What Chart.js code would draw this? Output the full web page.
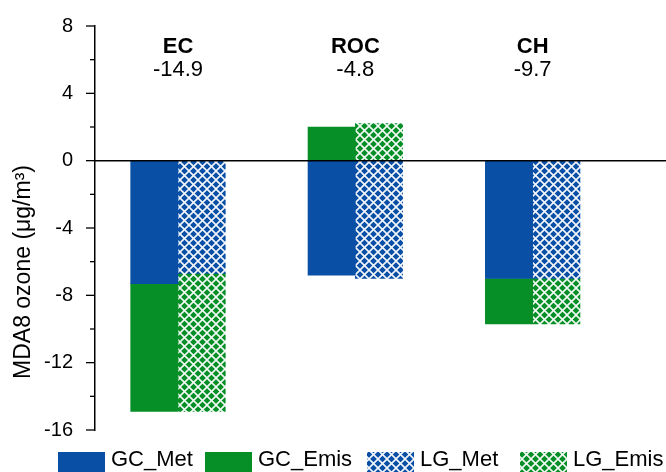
<!DOCTYPE html>
<html><head><meta charset="utf-8">
<script src="https://cdn.jsdelivr.net/npm/chart.js@4.4.0/dist/chart.umd.min.js"></script>
<style>html,body{margin:0;padding:0;background:#fff;}#wrap{width:666px;height:472px;}</style>
</head><body><div id="wrap"><canvas id="c" width="666" height="472"></canvas></div>
<script>
// ---- data ----
const categories = ['EC', 'ROC', 'CH'];
const totalLabels = ['-14.9', '-4.8', '-9.7'];
const seriesNames = ['GC_Met', 'GC_Emis', 'LG_Met', 'LG_Emis'];
const gcMet  = [-7.3, -6.8, -7.0];
const gcEmis = [-7.6,  2.0, -2.7];
const lgMet  = [-6.7, -7.0, -7.0];
const lgEmis = [-8.2,  2.2, -2.7];
const yTickValues = [8, 4, 0, -4, -8, -12, -16];

// ---- styles ----
const BLUE = '#0a4fa6';
const GREEN = '#068f26';
const FONT = "'Liberation Sans', Arial, sans-serif";
Chart.defaults.font.family = FONT;
Chart.defaults.color = '#000';

function hatch(color) {
  const s = 9;
  const c = document.createElement('canvas');
  c.width = s; c.height = s;
  const g = c.getContext('2d');
  g.fillStyle = color; g.fillRect(0, 0, s, s);
  g.strokeStyle = 'rgba(255,255,255,0.95)';
  g.lineWidth = 1.6;
  g.beginPath();
  g.moveTo(-2, -2); g.lineTo(s + 2, s + 2);
  g.moveTo(s + 2, -2); g.lineTo(-2, s + 2);
  g.stroke();
  return g.createPattern(c, 'repeat');
}
const fills = [BLUE, GREEN, hatch(BLUE), hatch(GREEN)];
const stacks = ['GC', 'GC', 'LG', 'LG'];
const seriesValues = [gcMet, gcEmis, lgMet, lgEmis];

const datasets = seriesNames.map((name, k) => ({
  label: name,
  data: categories.map((c, i) => ({ x: i + 1, y: seriesValues[k][i] })),
  backgroundColor: fills[k],
  stack: stacks[k],
  barThickness: 47.3,
  borderWidth: 0
}));

const overlay = {
  id: 'overlay',
  afterDatasetsDraw(chart) {
    const ctx = chart.ctx;
    const ys = chart.scales.y, xs = chart.scales.x;
    const area = chart.chartArea;
    ctx.save();
    // zero line
    const y0 = ys.getPixelForValue(0);
    ctx.strokeStyle = '#000'; ctx.lineWidth = 1.5;
    ctx.beginPath(); ctx.moveTo(area.left, y0); ctx.lineTo(chart.width, y0); ctx.stroke();
    // ticks
    ctx.lineWidth = 1.3;
    for (let v = ys.max; v >= ys.min; v -= 2) {
      const p = ys.getPixelForValue(v);
      const len = (v % 4 === 0) ? 9 : 5;
      ctx.beginPath(); ctx.moveTo(area.left - len, p); ctx.lineTo(area.left, p); ctx.stroke();
    }
    // category labels and totals
    ctx.fillStyle = '#000'; ctx.textAlign = 'center'; ctx.textBaseline = 'alphabetic';
    categories.forEach((c, i) => {
      const x = xs.getPixelForValue(i + 1);
      ctx.font = 'bold 22px ' + FONT;
      ctx.fillText(c, x, 53);
      ctx.font = '22px ' + FONT;
      ctx.fillText(totalLabels[i], x, 76);
    });
    // y title
    ctx.save();
    ctx.translate(24, 272);
    ctx.rotate(-Math.PI / 2);
    ctx.font = '23px ' + FONT;
    ctx.textAlign = 'center'; ctx.textBaseline = 'middle';
    ctx.fillText('MDA8 ozone (μg/m³)', 0, 0);
    ctx.restore();
    // legend
    const boxX = [58, 205, 367, 520];
    ctx.font = '22px ' + FONT; ctx.textAlign = 'left'; ctx.textBaseline = 'alphabetic';
    seriesNames.forEach((n, k) => {
      ctx.fillStyle = fills[k];
      ctx.fillRect(boxX[k], 452, 47, 21);
      ctx.fillStyle = '#000';
      ctx.fillText(n, boxX[k] + 53, 466);
    });
    ctx.restore();
  }
};

new Chart(document.getElementById('c'), {
  type: 'bar',
  data: { datasets },
  options: {
    responsive: false,
    devicePixelRatio: 1,
    animation: false,
    layout: { padding: { left: 0, right: 0, top: 22.5, bottom: 42 } },
    plugins: { legend: { display: false }, tooltip: { enabled: false } },
    scales: {
      x: {
        type: 'linear', min: 0.532, max: 3.752, bounds: 'data', offset: false,
        display: false,
        afterBuildTicks: s => { s.ticks = categories.map((c, i) => ({ value: i + 1 })); }
      },
      y: {
        min: -16, max: 8, stacked: true,
        afterBuildTicks: s => { s.ticks = yTickValues.map(v => ({ value: v })); },
        ticks: { font: { size: 20 }, color: '#000', padding: 14, autoSkip: false },
        grid: { display: false },
        border: { display: true, color: '#000', width: 1.5 },
        afterFit: s => { s.width = 95; }
      }
    }
  },
  plugins: [overlay]
});
</script>
</body></html>
